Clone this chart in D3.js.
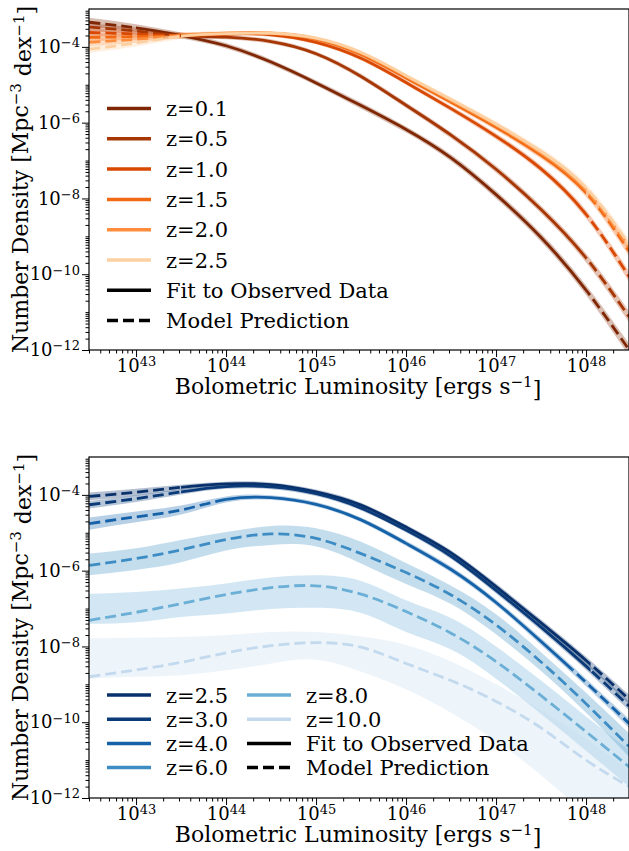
<!DOCTYPE html>
<html>
<head>
<meta charset="utf-8">
<script src="https://cdn.jsdelivr.net/npm/d3@7"></script>
<style>
  body { margin: 0; background: #fff; }
  svg { display: block; }
</style>
</head>
<body>
<div id="chart"></div>
<script>
// log10 of bolometric luminosity where the curves were read
var logL = [42.48, 43, 43.5, 44, 44.5, 45, 45.5, 46, 46.5, 47, 47.5, 48, 48.48];

// ---- top panel: low redshift (log10 number density) ----
var topZ = ["0.1", "0.5", "1.0", "1.5", "2.0", "2.5"];
var topColors = ["#7f2704", "#a63603", "#d94801", "#f16913", "#fd8d3c", "#fdd0a2"];
var topPhi = [
  [-3.35, -3.50, -3.70, -3.97, -4.40, -4.95, -5.55, -6.18, -6.93, -7.90, -9.03, -10.42, -12.00],
  [-3.48, -3.58, -3.70, -3.74, -3.86, -4.18, -4.78, -5.54, -6.33, -7.23, -8.29, -9.57, -11.13],
  [-3.62, -3.66, -3.70, -3.66, -3.68, -3.88, -4.30, -4.94, -5.63, -6.36, -7.22, -8.42, -10.07],
  [-3.75, -3.73, -3.70, -3.65, -3.65, -3.80, -4.20, -4.82, -5.46, -6.12, -6.86, -7.85, -9.40],
  [-3.88, -3.80, -3.70, -3.64, -3.64, -3.78, -4.17, -4.78, -5.42, -6.07, -6.80, -7.78, -9.30],
  [-4.06, -3.90, -3.72, -3.65, -3.64, -3.77, -4.15, -4.76, -5.39, -6.04, -6.76, -7.72, -9.22]
];
// band half widths (dex), symmetric in the top panel
var topErr = [
  [0.12, 0.10, 0.08, 0.07, 0.07, 0.07, 0.08, 0.08, 0.09, 0.10, 0.11, 0.13, 0.16],
  [0.10, 0.09, 0.07, 0.06, 0.06, 0.06, 0.07, 0.07, 0.08, 0.09, 0.10, 0.12, 0.15],
  [0.10, 0.09, 0.07, 0.05, 0.05, 0.05, 0.06, 0.06, 0.07, 0.08, 0.09, 0.11, 0.14],
  [0.10, 0.09, 0.07, 0.05, 0.05, 0.05, 0.06, 0.06, 0.07, 0.08, 0.09, 0.11, 0.14],
  [0.10, 0.09, 0.07, 0.05, 0.05, 0.05, 0.06, 0.06, 0.07, 0.08, 0.09, 0.11, 0.14],
  [0.10, 0.09, 0.07, 0.05, 0.05, 0.05, 0.06, 0.06, 0.07, 0.08, 0.09, 0.11, 0.14]
];
// observed luminosity range (log10 L) drawn solid
var topSolid = [[43.0, 48.0], [43.25, 48.0], [43.5, 48.0], [43.5, 48.0], [43.5, 48.0], [43.5, 48.0]];

// ---- bottom panel: high redshift ----
var botZ = ["2.5", "3.0", "4.0", "6.0", "8.0", "10.0"];
var botColors = ["#08306b", "#0a3a78", "#1562a9", "#3d8dc4", "#6baed6", "#c3daee"];
var botPhi = [
  [-4.04, -3.93, -3.80, -3.71, -3.73, -3.92, -4.27, -4.85, -5.53, -6.42, -7.38, -8.37, -9.40],
  [-4.26, -4.10, -3.92, -3.78, -3.79, -3.97, -4.35, -4.93, -5.62, -6.52, -7.49, -8.52, -9.58],
  [-4.76, -4.58, -4.40, -4.12, -4.07, -4.25, -4.66, -5.28, -5.97, -6.84, -7.87, -8.95, -10.04],
  [-5.86, -5.68, -5.45, -5.18, -5.03, -5.15, -5.55, -6.05, -6.64, -7.43, -8.41, -9.51, -10.65],
  [-7.31, -7.10, -6.87, -6.63, -6.45, -6.40, -6.62, -7.08, -7.65, -8.40, -9.30, -10.25, -11.18],
  [-8.80, -8.62, -8.42, -8.17, -7.98, -7.90, -8.02, -8.45, -8.90, -9.45, -10.15, -11.00, -11.70]
];
var botErrUp = [
  [0.10, 0.09, 0.07, 0.06, 0.06, 0.06, 0.06, 0.06, 0.07, 0.08, 0.09, 0.10, 0.12],
  [0.10, 0.09, 0.07, 0.06, 0.06, 0.06, 0.06, 0.06, 0.07, 0.08, 0.09, 0.10, 0.12],
  [0.16, 0.14, 0.12, 0.08, 0.06, 0.06, 0.06, 0.07, 0.08, 0.08, 0.09, 0.10, 0.12],
  [0.31, 0.27, 0.26, 0.20, 0.21, 0.27, 0.31, 0.25, 0.24, 0.28, 0.26, 0.29, 0.35],
  [0.70, 0.54, 0.40, 0.29, 0.27, 0.28, 0.35, 0.30, 0.40, 0.40, 0.40, 0.40, 0.44],
  [1.01, 0.85, 0.67, 0.47, 0.36, 0.28, 0.28, 0.49, 0.50, 0.45, 0.47, 0.55, 0.43]
];
var botErrDn = [
  [0.10, 0.09, 0.07, 0.06, 0.06, 0.06, 0.06, 0.06, 0.07, 0.08, 0.09, 0.10, 0.12],
  [0.10, 0.09, 0.07, 0.06, 0.06, 0.06, 0.06, 0.06, 0.07, 0.08, 0.09, 0.10, 0.12],
  [0.16, 0.14, 0.12, 0.08, 0.06, 0.06, 0.06, 0.07, 0.08, 0.08, 0.09, 0.10, 0.12],
  [0.26, 0.30, 0.33, 0.29, 0.29, 0.21, 0.26, 0.30, 0.24, 0.25, 0.24, 0.24, 0.27],
  [0.09, 0.26, 0.35, 0.50, 0.56, 0.58, 0.50, 0.54, 0.43, 0.45, 0.48, 0.50, 0.52],
  [0.05, 0.18, 0.34, 0.46, 0.47, 0.45, 0.65, 0.68, 0.85, 1.05, 1.25, 1.40, 1.50]
];
var botSolid = [[43.5, 48.05], [43.5, 48.05], [44.0, 47.85], null, null, null];

var width = 629, height = 851;
var left = 89, right = 629;
var serif = "'DejaVu Serif', 'Liberation Serif', serif";

var x = d3.scaleLog().domain([3e42, 3e48]).range([left, right]);

var svg = d3.select("#chart").append("svg")
    .attr("width", width)
    .attr("height", height)
    .style("font-family", serif);
var defs = svg.append("defs");

function sup(sel, base, exp, size) {
  sel.append("tspan").text(base);
  sel.append("tspan").attr("dy", "-0.45em").attr("font-size", size).text(exp);
}

function drawPanel(id, top, bottom, zs, colors, phi, errUp, errDn, solid, legend) {
  var y = d3.scaleLog().domain([1e-12, 1e-3]).range([bottom, top]);

  defs.append("clipPath").attr("id", id + "-plot")
    .append("rect").attr("x", left).attr("y", top)
    .attr("width", right - left).attr("height", bottom - top);

  var g = svg.append("g").attr("clip-path", "url(#" + id + "-plot)");

  var area = d3.area()
      .x(function(d) { return x(Math.pow(10, d[0])); })
      .y0(function(d) { return y(Math.pow(10, d[1] - d[3])); })
      .y1(function(d) { return y(Math.pow(10, d[1] + d[2])); })
      .curve(d3.curveNatural);
  var line = d3.line()
      .x(function(d) { return x(Math.pow(10, d[0])); })
      .y(function(d) { return y(Math.pow(10, d[1])); })
      .curve(d3.curveNatural);

  var series = zs.map(function(z, i) {
    return {
      z: z, color: colors[i], solid: solid[i],
      pts: logL.map(function(l, j) { return [l, phi[i][j], errUp[i][j], errDn[i][j]]; })
    };
  });

  // bands
  g.selectAll("path.band")
    .data(series)
    .enter().append("path")
      .attr("class", "band")
      .attr("d", function(d) { return area(d.pts); })
      .attr("fill", function(d) { return d.color; })
      .attr("fill-opacity", 0.3)
      .attr("stroke", "none");

  series.forEach(function(s, i) {
    var cs = id + "-s" + i, cd = id + "-d" + i;
    var dashClip = defs.append("clipPath").attr("id", cd);
    if (s.solid) {
      var x0 = x(Math.pow(10, s.solid[0])), x1 = x(Math.pow(10, s.solid[1]));
      defs.append("clipPath").attr("id", cs)
        .append("rect").attr("x", x0).attr("y", top - 5)
        .attr("width", x1 - x0).attr("height", bottom - top + 10);
      dashClip.append("rect").attr("x", left - 5).attr("y", top - 5)
        .attr("width", x0 - left + 5).attr("height", bottom - top + 10);
      dashClip.append("rect").attr("x", x1).attr("y", top - 5)
        .attr("width", right - x1 + 5).attr("height", bottom - top + 10);
      g.append("g").attr("clip-path", "url(#" + cs + ")")
        .append("path")
          .attr("d", line(s.pts))
          .attr("fill", "none")
          .attr("stroke", s.color)
          .attr("stroke-width", 2.8);
    } else {
      dashClip.append("rect").attr("x", left - 5).attr("y", top - 5)
        .attr("width", right - left + 10).attr("height", bottom - top + 10);
    }
    g.append("g").attr("clip-path", "url(#" + cd + ")")
      .append("path")
        .attr("d", line(s.pts))
        .attr("fill", "none")
        .attr("stroke", s.color)
        .attr("stroke-width", 2.8)
        .attr("stroke-dasharray", "11,5");
  });

  // frame
  svg.append("rect")
    .attr("x", left).attr("y", top)
    .attr("width", right - left).attr("height", bottom - top)
    .attr("fill", "none").attr("stroke", "#000").attr("stroke-width", 1.2);

  // y axis: labelled even decades, the rest minor
  var yMajor = [-12, -10, -8, -6, -4].map(function(e) { return Math.pow(10, e); });
  var yMinor = [];
  for (var e = -12; e < -3; e++) {
    for (var m = 1; m < 10; m++) {
      if (m === 1 && e % 2 === 0) continue;
      yMinor.push(m * Math.pow(10, e));
    }
  }
  svg.append("g").attr("transform", "translate(" + left + ",0)")
    .call(d3.axisLeft(y).tickValues(yMinor).tickSize(3.5))
    .call(function(a) { a.select(".domain").remove(); a.selectAll("text").remove(); });
  var ya = svg.append("g").attr("transform", "translate(" + left + ",0)")
    .call(d3.axisLeft(y).tickValues(yMajor).tickSize(7).tickPadding(2))
    .call(function(a) { a.select(".domain").remove(); });
  ya.attr("font-family", serif);
  ya.selectAll(".tick text").text(null).attr("font-size", "18px")
    .style("font-family", serif)
    .each(function(d) {
      var ex = Math.round(Math.log10(d));
      sup(d3.select(this), "10", "\u2212" + (-ex), "13px");
    });

  // x axis
  var xMajor = [43, 44, 45, 46, 47, 48].map(function(e) { return Math.pow(10, e); });
  var xMinor = [];
  for (var ex = 42; ex < 49; ex++) {
    for (var mm = 2; mm < 10; mm++) {
      var v = mm * Math.pow(10, ex);
      if (v >= 3e42 && v <= 3e48) xMinor.push(v);
    }
  }
  svg.append("g").attr("transform", "translate(0," + bottom + ")")
    .call(d3.axisBottom(x).tickValues(xMinor).tickSize(3.5))
    .call(function(a) { a.select(".domain").remove(); a.selectAll("text").remove(); });
  var xa = svg.append("g").attr("transform", "translate(0," + bottom + ")")
    .call(d3.axisBottom(x).tickValues(xMajor).tickSize(7).tickPadding(2))
    .call(function(a) { a.select(".domain").remove(); });
  xa.attr("font-family", serif);
  xa.selectAll(".tick text").text(null).attr("font-size", "18px")
    .style("font-family", serif)
    .each(function(d) {
      sup(d3.select(this), "10", String(Math.round(Math.log10(d))), "13px");
    });

  // axis titles
  var yt = svg.append("text")
    .attr("transform", "translate(28," + ((top + bottom) / 2) + ") rotate(-90)")
    .attr("text-anchor", "middle")
    .attr("font-size", "22px")
    .style("font-family", serif);
  yt.append("tspan").text("Number Density [Mpc");
  yt.append("tspan").attr("dy", "-0.45em").attr("font-size", "15px").text("\u22123");
  yt.append("tspan").attr("dy", "0.45em").text(" dex");
  yt.append("tspan").attr("dy", "-0.45em").attr("font-size", "15px").text("\u22121");
  yt.append("tspan").attr("dy", "0.45em").text("]");

  var xt = svg.append("text")
    .attr("x", (left + right) / 2 - 1)
    .attr("y", bottom + 44)
    .attr("text-anchor", "middle")
    .attr("font-size", "22px")
    .style("font-family", serif);
  xt.append("tspan").text("Bolometric Luminosity [ergs s");
  xt.append("tspan").attr("dy", "-0.45em").attr("font-size", "15px").text("\u22121");
  xt.append("tspan").attr("dy", "0.45em").text("]");

  // legend
  var entries = series.map(function(s) { return { label: "z=" + s.z, color: s.color, dash: null }; })
    .concat([{ label: "Fit to Observed Data", color: "#000", dash: null },
             { label: "Model Prediction", color: "#000", dash: "11,5" }]);
  var lg = svg.append("g");
  entries.forEach(function(en, i) {
    var col = Math.floor(i / legend.rows), row = i % legend.rows;
    var lx = legend.x + col * legend.colStep, ly = legend.y + row * legend.step;
    lg.append("line")
      .attr("x1", lx).attr("x2", lx + 44)
      .attr("y1", ly).attr("y2", ly)
      .attr("stroke", en.color).attr("stroke-width", 3.5)
      .attr("stroke-dasharray", en.dash);
    lg.append("text")
      .attr("x", lx + 59).attr("y", ly)
      .attr("dy", "0.36em")
      .attr("font-size", "21px")
      .style("font-family", serif)
      .text(en.label);
  });
}

drawPanel("top", 9, 350, topZ, topColors, topPhi, topErr, topErr, topSolid,
  { x: 107, y: 108.5, step: 30.3, rows: 8, colStep: 0 });
drawPanel("bot", 457, 798, botZ, botColors, botPhi, botErrUp, botErrDn, botSolid,
  { x: 107, y: 695, step: 24.2, rows: 4, colStep: 140 });
</script>
</body>
</html>
